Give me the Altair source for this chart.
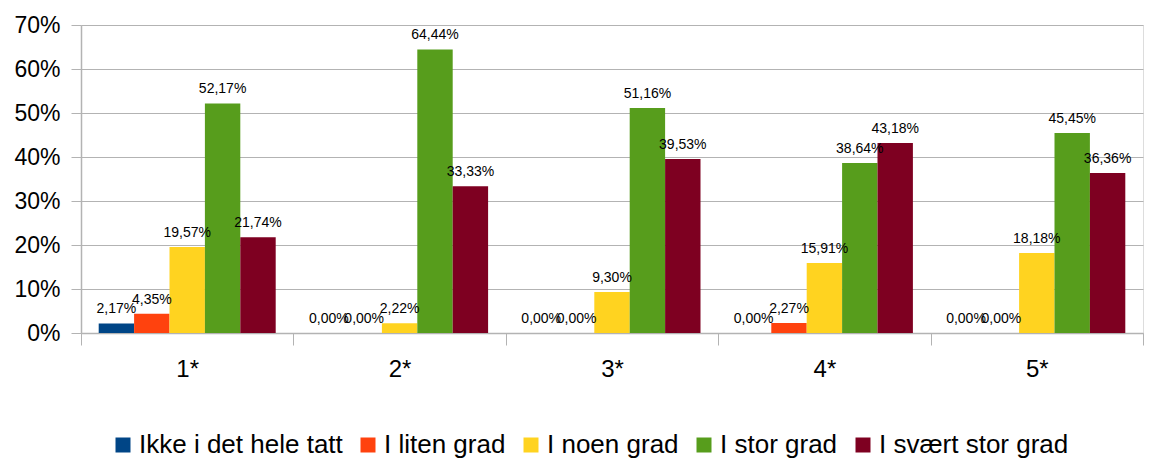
import altair as alt
import pandas as pd

groups = ["1*", "2*", "3*", "4*", "5*"]
categories = ["Ikke i det hele tatt", "I liten grad", "I noen grad", "I stor grad", "I svært stor grad"]
colors = ["#004586", "#ff420e", "#ffd320", "#579d1c", "#7e0021"]

ikke = [2.17, 0.00, 0.00, 0.00, 0.00]
liten = [4.35, 0.00, 0.00, 2.27, 0.00]
noen = [19.57, 2.22, 9.30, 15.91, 18.18]
stor = [52.17, 64.44, 51.16, 38.64, 45.45]
svaert = [21.74, 33.33, 39.53, 43.18, 36.36]

series = [ikke, liten, noen, stor, svaert]
rows = []
for cat, vals in zip(categories, series):
    for g, v in zip(groups, vals):
        rows.append({
            "group": g,
            "cat": cat,
            "value": v / 100.0,
            "label": f"{v:.2f}".replace(".", ",") + "%",
        })
df = pd.DataFrame(rows)

FONT = "Liberation Sans"
GRID = "#b3b3b3"

base = alt.Chart(df).encode(
    x=alt.X(
        "group:N",
        sort=groups,
        scale=alt.Scale(paddingInner=0, paddingOuter=0),
        axis=alt.Axis(
            title=None,
            labelAngle=0,
            tickBand="extent",
            grid=False,
            tickSize=12,
            tickColor=GRID,
            domainColor=GRID,
            domainWidth=1.5,
            labelFontSize=24,
            labelPadding=12,
            labelColor="#000000",
            labelFont=FONT,
        ),
    ),
    xOffset=alt.XOffset(
        "cat:N",
        sort=categories,
        scale=alt.Scale(paddingInner=0, paddingOuter=0.5),
    ),
    y=alt.Y(
        "value:Q",
        scale=alt.Scale(domain=[0, 0.7], nice=False),
        axis=alt.Axis(
            title=None,
            format=".0%",
            values=[0, 0.1, 0.2, 0.3, 0.4, 0.5, 0.6, 0.7],
            grid=True,
            gridColor=GRID,
            tickColor=GRID,
            tickSize=10,
            domainColor=GRID,
            domainWidth=1.5,
            labelFontSize=23,
            labelPadding=11,
            labelColor="#000000",
            labelFont=FONT,
        ),
    ),
)

bars = base.mark_bar().encode(
    color=alt.Color(
        "cat:N",
        sort=categories,
        scale=alt.Scale(domain=categories, range=colors),
        legend=alt.Legend(
            title=None,
            orient="none",
            direction="horizontal",
            legendX=29,
            legendY=407,
            symbolType="square",
            symbolSize=225,
            symbolStrokeWidth=0,
            labelFontSize=26,
            labelFont=FONT,
            labelColor="#000000",
            labelOffset=3,
            labelLimit=500,
            columnPadding=12,
        ),
    )
)

texts = base.mark_text(
    dy=-10, baseline="alphabetic", align="center", fontSize=14, font=FONT, color="#000000"
).encode(text="label:N")

chart = (
    alt.layer(bars, texts)
    .properties(width=1062, height=308, padding={"left": 5, "top": 6, "right": 0, "bottom": 0})
    .configure_view(strokeWidth=0)
    .configure(background="#ffffff")
)

chart.save("out.html", embed_options={"renderer": "svg", "actions": False})
